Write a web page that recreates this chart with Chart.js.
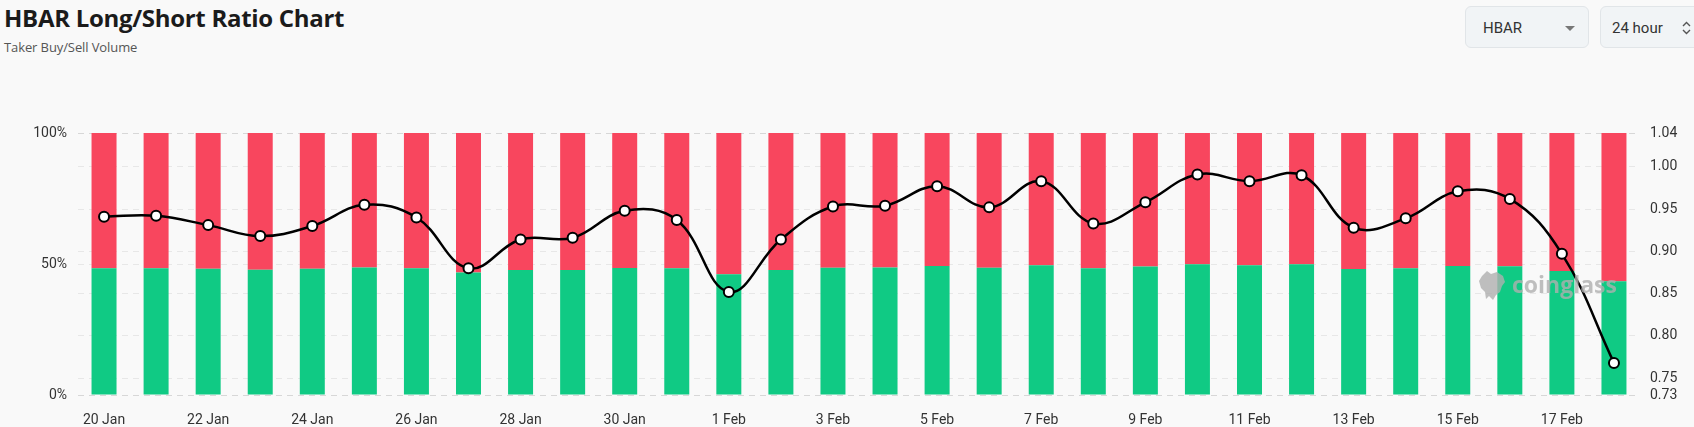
<!DOCTYPE html>
<html>
<head>
<meta charset="utf-8">
<script src="https://cdn.jsdelivr.net/npm/chart.js@4.4.1/dist/chart.umd.min.js"></script>
<style>
  html, body { margin: 0; padding: 0; background: #f9f9f9; width: 1694px; height: 427px; overflow: hidden; }
  .title { position: absolute; left: 4px; top: 1px; font: 700 24px "Open Sans", sans-serif; color: #1b1b1b; letter-spacing: -0.3px; }
  .sub { position: absolute; left: 4px; top: 38px; font: 400 13px "Open Sans", sans-serif; color: #555; letter-spacing: -0.1px; }
  .sel { position: absolute; top: 6px; height: 42px; border: 1px solid #e1e5e8; border-radius: 6px; background: #f1f4f6;
         font: 400 15px Roboto, sans-serif; color: #333; line-height: 42px; box-sizing: border-box; }
  .sel1 { left: 1465px; width: 124px; padding-left: 17px; }
  .sel2 { left: 1600px; width: 110px; padding-left: 11px; }
  .caret { position: absolute; left: 99px; top: 19px; width: 0; height: 0; border-left: 5px solid transparent; border-right: 5px solid transparent; border-top: 5px solid #777; }
  .wm { position: absolute; left: 1478px; top: 268px; font: 700 23px "Open Sans", sans-serif; color: rgba(175,175,175,0.8); z-index: 5; white-space: nowrap; }
  .wm svg { vertical-align: -7px; margin-right: 6px; }
  #wrap { position: absolute; left: 0; top: 0; width: 1694px; height: 427px; }
</style>
</head>
<body>
<div class="title">HBAR Long/Short Ratio Chart</div>
<div class="sub">Taker Buy/Sell Volume</div>
<div class="sel sel1">HBAR<span class="caret"></span></div>
<div class="sel sel2">24 hour <svg width="9" height="14" style="position:absolute;left:81px;top:14px" viewBox="0 0 9 14"><path d="M1 5 L4.5 1.5 L8 5 M1 9 L4.5 12.5 L8 9" fill="none" stroke="#555" stroke-width="1.4"/></svg></div>
<div class="wm"><svg width="28" height="30" viewBox="0 0 28 30"><path d="M4 6 L9 1 L13 4 L19 2 L25 6 L27 12 L24 16 L22 22 L18 25 L15 30 L11 26 L8 29 L7 22 L3 18 L1 11 Z" fill="rgba(175,175,175,0.8)"/></svg>coinglass</div>
<div id="wrap"><canvas id="chartdispArea"></canvas></div>
<script>
var dates = ['20 Jan', '21 Jan', '22 Jan', '23 Jan', '24 Jan', '25 Jan', '26 Jan', '27 Jan', '28 Jan', '29 Jan',
    '30 Jan', '31 Jan', '1 Feb', '2 Feb', '3 Feb', '4 Feb', '5 Feb', '6 Feb', '7 Feb', '8 Feb',
    '9 Feb', '10 Feb', '11 Feb', '12 Feb', '13 Feb', '14 Feb', '15 Feb', '16 Feb', '17 Feb', '18 Feb'];

var longPct = [48.4, 48.4, 48.2, 47.8, 48.2, 48.7, 48.4, 46.8, 47.7, 47.7,
    48.5, 48.4, 46.1, 47.7, 48.6, 48.7, 49.2, 48.6, 49.5, 48.4,
    49.0, 49.9, 49.5, 49.9, 48.1, 48.4, 49.2, 49.1, 47.3, 43.4];

var shortPct = [51.6, 51.6, 51.8, 52.2, 51.8, 51.3, 51.6, 53.2, 52.3, 52.3,
    51.5, 51.6, 53.9, 52.3, 51.4, 51.3, 50.8, 51.4, 50.5, 51.6,
    51.0, 50.1, 50.5, 50.1, 51.9, 51.6, 50.8, 50.9, 52.7, 56.6];

var ratio = [0.941, 0.942, 0.931, 0.918, 0.930, 0.955, 0.940, 0.880, 0.914, 0.916,
    0.948, 0.937, 0.852, 0.914, 0.953, 0.954, 0.977, 0.952, 0.983, 0.933,
    0.958, 0.991, 0.983, 0.990, 0.928, 0.939, 0.971, 0.962, 0.897, 0.768];

var pctTicks = [0, 50, 100];
var ratioTicks = [0.73, 0.75, 0.80, 0.85, 0.90, 0.95, 1.00, 1.04];

Chart.defaults.font.family = 'Roboto, sans-serif';
Chart.defaults.font.size = 14;
Chart.defaults.color = '#333';

var ctx = document.getElementById('chartdispArea').getContext('2d');

var gridLine = { color: 'rgba(0,0,0,0.07)', drawTicks: false };
var dashed = { display: false, dash: [6, 5] };

var myChart = new Chart(ctx, {
    data: {
        labels: dates,
        datasets: [{
            type: 'line',
            label: 'Long/Short Ratio',
            data: ratio,
            yAxisID: 'y1',
            borderColor: '#000',
            borderWidth: 2.5,
            tension: 0.4,
            pointRadius: 5,
            pointBorderWidth: 2,
            pointBackgroundColor: '#fff',
            pointBorderColor: '#000',
            order: 0
        }, {
            type: 'bar',
            label: 'Long',
            data: longPct,
            yAxisID: 'y',
            backgroundColor: '#10ca84',
            stack: 's',
            order: 1
        }, {
            type: 'bar',
            label: 'Short',
            data: shortPct,
            yAxisID: 'y',
            backgroundColor: '#f8465e',
            stack: 's',
            order: 1
        }]
    },
    options: {
        responsive: true,
        maintainAspectRatio: false,
        animation: false,
        layout: { padding: { top: 133, left: 0, right: 0, bottom: 0 } },
        datasets: { bar: { categoryPercentage: 1, barPercentage: 0.48 } },
        plugins: { legend: { display: false }, tooltip: { enabled: false } },
        scales: {
            x: {
                stacked: true,
                grid: { display: false },
                border: { display: false },
                ticks: {
                    autoSkip: false,
                    maxRotation: 0,
                    padding: 9,
                    callback: function(v, i) { return i % 2 === 0 ? dates[i] : ''; }
                },
                afterFit: function(s) { s.height = 32; }
            },
            y: {
                position: 'left',
                stacked: true,
                min: 0,
                max: 100,
                grid: gridLine,
                border: dashed,
                afterBuildTicks: function(s) { s.ticks = pctTicks.map(function(v) { return { value: v }; }); },
                ticks: {
                    padding: 11,
                    callback: function(v) { return v + '%'; }
                },
                afterFit: function(s) { s.width = 78; }
            },
            y1: {
                position: 'right',
                min: 0.73,
                max: 1.04,
                grid: gridLine,
                border: dashed,
                afterBuildTicks: function(s) { s.ticks = ratioTicks.map(function(v) { return { value: v }; }); },
                ticks: {
                    autoSkip: false,
                    padding: 10,
                    callback: function(v) { return v.toFixed(2); }
                },
                afterFit: function(s) { s.width = 54; }
            }
        }
    }
});
</script>
</body>
</html>
